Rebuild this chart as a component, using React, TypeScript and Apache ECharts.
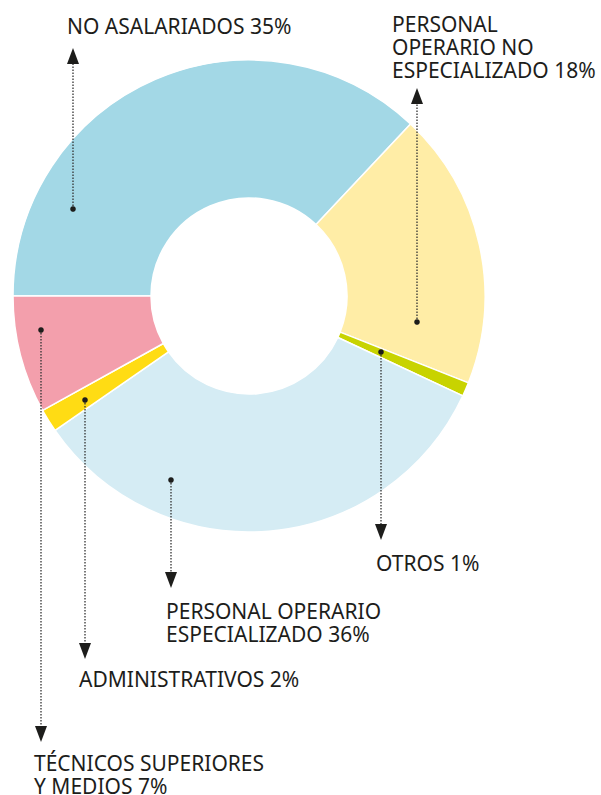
import React, { useEffect, useRef } from "react";
import * as echarts from "echarts";

const categories = [
  "NO ASALARIADOS",
  "PERSONAL OPERARIO NO ESPECIALIZADO",
  "OTROS",
  "PERSONAL OPERARIO ESPECIALIZADO",
  "ADMINISTRATIVOS",
  "TÉCNICOS SUPERIORES Y MEDIOS",
];
// slice sizes (degrees / 3.6)
const values = [37.0, 19.0, 0.95, 33.4, 1.6, 8.05];
// percentages printed on the labels
const labelPercents = [35, 18, 1, 36, 2, 7];
const labelLines = [
  ["NO ASALARIADOS 35%"],
  ["PERSONAL", "OPERARIO NO", "ESPECIALIZADO 18%"],
  ["OTROS 1%"],
  ["PERSONAL OPERARIO", "ESPECIALIZADO 36%"],
  ["ADMINISTRATIVOS 2%"],
  ["TÉCNICOS SUPERIORES", "Y MEDIOS 7%"],
];
const colors = ["#A3D8E6", "#FFEDA6", "#C8D300", "#D5ECF4", "#FFDC14", "#F39FAC"];

// annotation layout: dot point, arrow tip, label top-left
const annotations = [
  { dot: [73, 209], tip: [73, 48], up: true, label: [67, 14] },
  { dot: [417, 322], tip: [417, 88], up: true, label: [392, 12] },
  { dot: [381, 352], tip: [381, 540], up: false, label: [376, 551] },
  { dot: [171, 480], tip: [171, 588], up: false, label: [166, 599] },
  { dot: [85, 400], tip: [85, 659], up: false, label: [79, 667] },
  { dot: [41, 330], tip: [41, 742], up: false, label: [34, 751] },
];

const TEXT_COLOR = "#1d1d1b";
const FONT = "21px 'Noto Sans'";
const LINE_H = 23;

export default function App() {
  const ref = useRef<HTMLDivElement>(null);
  useEffect(() => {
    if (!ref.current) return;
    const chart = echarts.init(ref.current, undefined, { renderer: "svg" });
    const graphics: any[] = [];
    annotations.forEach((a, i) => {
      const [dx, dy] = a.dot;
      const [tx, ty] = a.tip;
      const ah = 16;
      const aw = 6;
      const baseY = a.up ? ty + ah : ty - ah;
      graphics.push({
        type: "line",
        shape: { x1: dx, y1: dy, x2: tx, y2: baseY },
        style: { stroke: "#333", lineWidth: 1.3, lineDash: [1.5, 1.5] },
        z: 10,
      });
      graphics.push({
        type: "polygon",
        shape: { points: [[tx, ty], [tx - aw, baseY], [tx + aw, baseY]] },
        style: { fill: "#1d1d1b" },
        z: 10,
      });
      graphics.push({
        type: "circle",
        shape: { cx: dx, cy: dy, r: 2.8 },
        style: { fill: "#1d1d1b" },
        z: 11,
      });
      labelLines[i].forEach((line, j) => {
        graphics.push({
          type: "text",
          x: a.label[0],
          y: a.label[1] + j * LINE_H + LINE_H / 2,
          style: {
            text: line,
            font: FONT,
            fill: TEXT_COLOR,
            align: "left",
            verticalAlign: "middle",
          },
          z: 12,
        });
      });
    });

    chart.setOption({
      animation: false,
      backgroundColor: "#ffffff",
      graphic: graphics,
      series: [
        {
          type: "pie",
          center: [249, 296],
          radius: [98, 236],
          startAngle: 180,
          clockwise: true,
          silent: true,
          label: { show: false },
          labelLine: { show: false },
          itemStyle: { borderColor: "#ffffff", borderWidth: 1.5 },
          data: categories.map((c, i) => ({
            name: c,
            value: values[i],
            percentLabel: labelPercents[i],
            itemStyle: { color: colors[i] },
          })),
        },
      ],
    });
    return () => chart.dispose();
  }, []);
  return (
    <div
      ref={ref}
      style={{ position: "absolute", left: 0, top: 0, width: 601, height: 795 }}
    />
  );
}
